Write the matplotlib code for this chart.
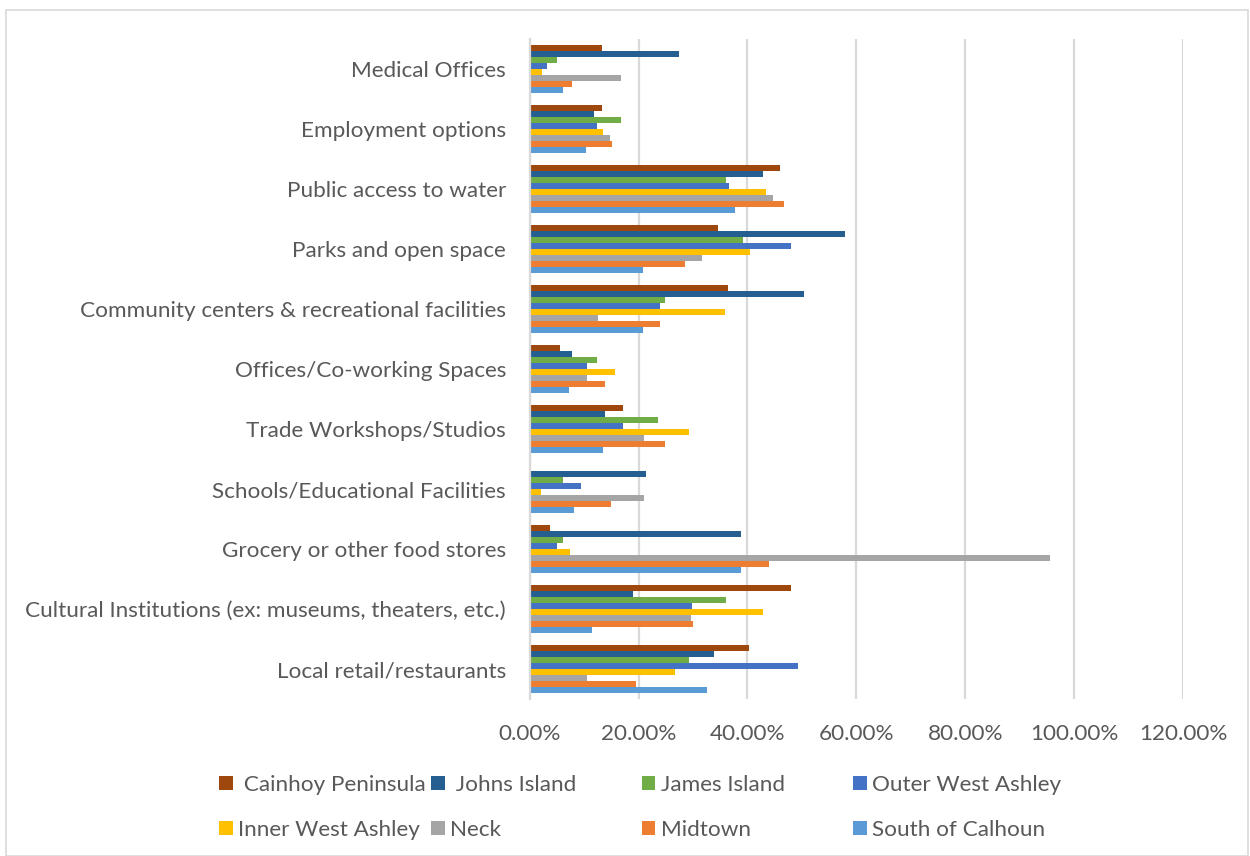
import numpy as np
import matplotlib
matplotlib.use('Agg')
import matplotlib.pyplot as plt
from matplotlib.patches import Rectangle, Patch
from matplotlib.ticker import FuncFormatter

# categories, top to bottom
categories = [
    'Medical Offices',
    'Employment options',
    'Public access to water',
    'Parks and open space',
    'Community centers & recreational facilities',
    'Offices/Co-working Spaces',
    'Trade Workshops/Studios',
    'Schools/Educational Facilities',
    'Grocery or other food stores',
    'Cultural Institutions (ex: museums, theaters, etc.)',
    'Local retail/restaurants',
]

# percent values per area, same order as categories
cainhoy = [13.3, 13.3, 46.0, 34.5, 36.4, 5.6, 17.1, 0.0, 3.7, 48.0, 40.3]
johns_island = [27.4, 11.8, 42.8, 57.9, 50.4, 7.8, 13.8, 21.3, 38.9, 18.9, 33.8]
james_island = [5.1, 16.8, 36.0, 39.1, 24.8, 12.4, 23.5, 6.1, 6.1, 36.1, 29.3]
outer_west_ashley = [3.2, 12.4, 36.6, 48.0, 23.9, 10.6, 17.1, 9.4, 5.0, 29.8, 49.3]
inner_west_ashley = [2.3, 13.4, 43.4, 40.5, 35.8, 15.6, 29.2, 2.0, 7.4, 42.8, 26.7]
neck = [16.8, 14.7, 44.6, 31.7, 12.5, 10.5, 21.0, 21.0, 95.6, 29.7, 10.5]
midtown = [7.8, 15.2, 46.7, 28.6, 23.9, 13.9, 24.9, 14.9, 43.9, 30.0, 19.6]
south_of_calhoun = [6.1, 10.3, 37.7, 20.9, 20.9, 7.2, 13.5, 8.2, 38.8, 11.5, 32.6]

series_names = ['Cainhoy Peninsula', 'Johns Island', 'James Island', 'Outer West Ashley',
                'Inner West Ashley', 'Neck', 'Midtown', 'South of Calhoun']
series_values = [cainhoy, johns_island, james_island, outer_west_ashley,
                 inner_west_ashley, neck, midtown, south_of_calhoun]
colors = ['#9E480E', '#255E91', '#70AD47', '#4472C4',
          '#FFC000', '#A5A5A5', '#ED7D31', '#5B9BD5']

plt.rcParams['font.family'] = ['Lato', 'DejaVu Sans']
TXT = '#595959'
FS = 16.2

fig = plt.figure(figsize=(12.5, 8.56), dpi=100)
W, H = 1250, 856
ax = fig.add_axes([529.7 / W, 1 - 699 / H, (1183 - 529.7) / W, 660 / H])

n = len(series_values)
bh = 0.1
y = np.arange(len(categories))
for i, (name, vals, c) in enumerate(zip(series_names, series_values, colors)):
    off = (i - (n - 1) / 2) * bh
    ax.barh(y + off, vals, height=bh, color=c, label=name, zorder=3)

ax.set_ylim(len(categories) - 0.5, -0.5)
ax.set_xlim(0, 120)
ax.set_xticks(np.arange(0, 121, 20))
ax.xaxis.set_major_formatter(FuncFormatter(lambda v, p: f'{v:.2f}%'))
ax.set_yticks(y)
ax.set_yticklabels(categories)
ax.tick_params(axis='both', length=0, labelsize=FS, colors=TXT)
ax.tick_params(axis='y', pad=17)
ax.tick_params(axis='x', pad=18)
ax.grid(axis='x', color='#D9D9D9', linewidth=1.6, zorder=0)
for s in ['top', 'right', 'bottom']:
    ax.spines[s].set_visible(False)
ax.spines['left'].set_color('#D9D9D9')
ax.spines['left'].set_linewidth(1.6)
ax.spines['left'].set_zorder(4)

# legend: four columns placed like the original
col_x = [219, 431, 642, 853]
for j in range(4):
    hs = [Patch(facecolor=colors[k], edgecolor='none') for k in (j, j + 4)]
    labs = [series_names[k] for k in (j, j + 4)]
    if j < 2:
        labs[0] = ' ' + labs[0]
    fig.legend(hs, labs, loc='upper left', bbox_to_anchor=(col_x[j] / W, 1 - 775 / H),
               frameon=False, fontsize=FS, labelcolor=TXT, handlelength=0.6,
               handleheight=0.6, handletextpad=0.25, borderpad=0, borderaxespad=0,
               labelspacing=1.12)

# chart frame
fig.add_artist(Rectangle((6 / W, 0), 1242 / W, 1 - 10 / H, transform=fig.transFigure,
                         fill=False, edgecolor='#D9D9D9', linewidth=1.2))

fig.savefig('out.png', dpi=100)
